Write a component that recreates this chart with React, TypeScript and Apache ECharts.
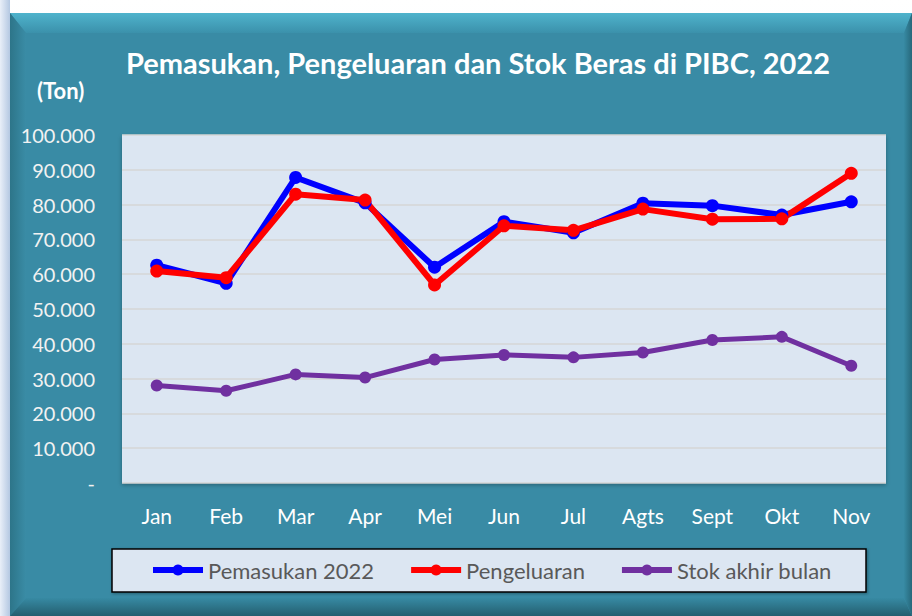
import React, { useEffect, useRef } from "react";
import * as echarts from "echarts";

const categories = ["Jan", "Feb", "Mar", "Apr", "Mei", "Jun", "Jul", "Agts", "Sept", "Okt", "Nov"];
const pemasukan = [62600, 57400, 87800, 80500, 62000, 75100, 71900, 80400, 79700, 77000, 80800];
const pengeluaran = [60900, 59000, 83000, 81300, 56900, 73900, 72600, 78700, 75800, 75900, 89000];
const stok = [28000, 26500, 31200, 30300, 35500, 36800, 36100, 37500, 41100, 42000, 33700];
const seriesNames = ["Pemasukan 2022", "Pengeluaran", "Stok akhir bulan"];
const titleText = "Pemasukan, Pengeluaran dan Stok Beras di PIBC, 2022";
const unitText = "(Ton)";

const FONT = "Lato, 'Open Sans', sans-serif";

function fmt(v: number): string {
  if (v === 0) return "-";
  const s = String(Math.round(v));
  return s.replace(/\B(?=(\d{3})+(?!\d))/g, ".");
}

export default function App() {
  const ref = useRef<HTMLDivElement>(null);
  useEffect(() => {
    if (!ref.current) return;
    const chart = echarts.init(ref.current, undefined, { renderer: "svg" });
    const W = 912, H = 616;
    const lin = (x1: number, y1: number, x2: number, y2: number, c1: string, c2: string) =>
      new echarts.graphic.LinearGradient(x1, y1, x2, y2, [
        { offset: 0, color: c1 },
        { offset: 1, color: c2 },
      ]);
    const mk = (name: string, color: string, width: number, size: number) => ({
      name,
      type: "line",
      symbol: "circle",
      symbolSize: size,
      itemStyle: { color },
      lineStyle: { color, width },
      z: 3,
    });
    chart.setOption({
      animation: false,
      backgroundColor: "#ffffff",
      graphic: [
        { type: "rect", z: -10, shape: { x: 0, y: 0, width: W, height: H }, style: { fill: lin(0, 0, 0, 1, "#ffffff", "#dbe5f1") } },
        { type: "rect", z: -10, shape: { x: 0, y: 0, width: 10, height: H }, style: { fill: lin(0, 0, 1, 0, "#e9eff8", "#b4c8e2") } },
        { type: "rect", z: -9, shape: { x: 10, y: 13, width: W - 10, height: H - 13 }, style: { fill: "#398ba5" } },
        { type: "polygon", z: -8, shape: { points: [[10, 13], [W, 13], [904, 33], [26, 33]] }, style: { fill: lin(0, 0, 0, 1, "#4fb3cc", "#3b91ab") } },
        { type: "polygon", z: -8, shape: { points: [[10, 13], [26, 33], [26, 598], [10, 616]] }, style: { fill: lin(0, 0, 1, 0, "#2d7589", "#3a8ca6") } },
        { type: "polygon", z: -8, shape: { points: [[10, 616], [26, 598], [904, 598], [W, 616]] }, style: { fill: lin(0, 0, 0, 1, "#378aa3", "#245e6f") } },
        { type: "polygon", z: -8, shape: { points: [[W, 13], [904, 33], [904, 598], [W, 616]] }, style: { fill: lin(0, 0, 1, 0, "#378aa3", "#27687b") } },
        { type: "text", z: 5, x: 478, y: 62, style: { text: titleText, fill: "#ffffff", font: `bold 29px ${FONT}`, textAlign: "center", textVerticalAlign: "middle" } },
        { type: "text", z: 5, x: 37, y: 90, style: { text: unitText, fill: "#ffffff", font: `bold 22px ${FONT}`, textAlign: "left", textVerticalAlign: "middle" } },
        { type: "rect", z: 1, shape: { x: 112, y: 549, width: 754, height: 43 }, style: { fill: "#dce6f2", stroke: "#000000", lineWidth: 1.5, shadowBlur: 3, shadowColor: "rgba(0,0,0,0.35)", shadowOffsetX: 1, shadowOffsetY: 1 } },
      ],
      grid: {
        left: 122,
        top: 135,
        right: W - 886,
        bottom: H - 483,
        show: true,
        backgroundColor: "#dce6f2",
        borderWidth: 0,
        shadowBlur: 4,
        shadowColor: "rgba(0,0,0,0.3)",
        shadowOffsetY: 2,
      },
      legend: {
        data: seriesNames,
        left: 145,
        top: 553,
        itemWidth: 50,
        itemHeight: 14,
        itemGap: 34,
        lineStyle: { width: 6 },
        textStyle: { color: "#595959", fontSize: 22, fontFamily: FONT, lineHeight: 24 },
        z: 10,
      },
      xAxis: {
        type: "category",
        data: categories,
        boundaryGap: true,
        axisLine: { show: false },
        axisTick: { show: false },
        axisLabel: { color: "#ffffff", fontSize: 21, fontFamily: FONT, margin: 22 },
      },
      yAxis: {
        type: "value",
        min: 0,
        max: 100000,
        interval: 10000,
        axisLine: { show: false },
        axisTick: { show: false },
        splitLine: { lineStyle: { color: "#d6d6d6", width: 1.5 } },
        axisLabel: { color: "#f2f2f2", fontSize: 20, fontFamily: FONT, margin: 27, formatter: (v: number) => fmt(v) },
      },
      series: [
        { ...mk(seriesNames[0], "#0000ff", 6, 13), data: pemasukan },
        { ...mk(seriesNames[1], "#ff0000", 6, 13), data: pengeluaran },
        { ...mk(seriesNames[2], "#7030a0", 5, 12), data: stok },
      ],
    });
    return () => chart.dispose();
  }, []);
  return <div ref={ref} style={{ position: "absolute", left: 0, top: 0, width: 912, height: 616 }} />;
}
